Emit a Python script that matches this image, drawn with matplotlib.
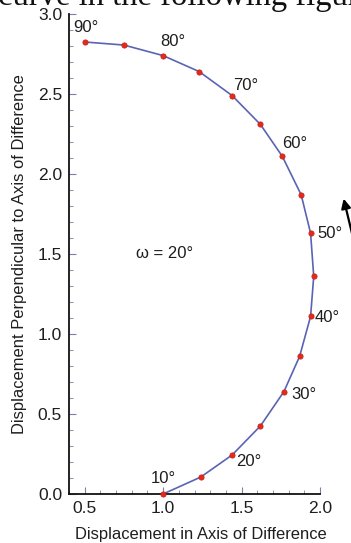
import matplotlib
matplotlib.use("Agg")
import matplotlib.pyplot as plt
from matplotlib.ticker import MultipleLocator

plt.rcParams['font.family'] = ['Liberation Sans', 'DejaVu Sans']

# angle of each point along the curve (deg)
angles = [10, 15, 20, 25, 30, 35, 40, 45, 50, 55, 60, 65, 70, 75, 80, 85, 90]
# displacement in axis of difference
x_disp = [1.00, 1.24, 1.44, 1.62, 1.77, 1.87, 1.94, 1.96, 1.94, 1.88, 1.76,
          1.62, 1.44, 1.23, 1.00, 0.75, 0.50]
# displacement perpendicular to axis of difference
y_disp = [0.00, 0.106, 0.244, 0.425, 0.64, 0.86, 1.11, 1.36, 1.63, 1.87, 2.11,
          2.31, 2.49, 2.64, 2.74, 2.806, 2.825]

# which points get a label, and where the text sits relative to the point (pt)
label_angles = [10, 20, 30, 40, 50, 60, 70, 80, 90]
label_offsets = {10: (0, 6), 20: (3, -5), 30: (5, -2), 40: (3, -1), 50: (5, 0),
                 60: (0, 4), 70: (1, 2), 80: (-2, 5), 90: (-8, 5)}
label_align = {10: ('center', 'bottom'), 20: ('left', 'center'), 30: ('left', 'center'),
               40: ('left', 'center'), 50: ('left', 'center'), 60: ('left', 'bottom'),
               70: ('left', 'bottom'), 80: ('left', 'bottom'), 90: ('left', 'bottom')}

fig = plt.figure(figsize=(3.51, 5.43), dpi=100)
ax = fig.add_axes([69 / 351, 1 - 494 / 543, 251 / 351, 480 / 543])

ax.plot(x_disp, y_disp, color='#5a63b4', lw=1.2, zorder=2)
ax.plot(x_disp, y_disp, 'o', color='#e42a1c', ms=3.8, mec='#c81e12', mew=0.5,
        zorder=3, clip_on=False)

for a in label_angles:
    i = angles.index(a)
    dx, dy = label_offsets[a]
    ha, va = label_align[a]
    ax.annotate(f'{a}°', (x_disp[i], y_disp[i]), xytext=(dx, dy),
                textcoords='offset points', ha=ha, va=va, fontsize=12,
                color='#1e1e1e')

ax.text(1.01, 1.5, 'ω = 20°', ha='center', va='center', fontsize=12,
        color='#1e1e1e')

# arrow running off the right edge
ax.annotate('', xy=(343 / 351, 1 - 196 / 543), xycoords='figure fraction',
            xytext=(356 / 351, 1 - 250 / 543), textcoords='figure fraction',
            arrowprops=dict(arrowstyle='-|>', color='black', lw=1.6,
                            mutation_scale=14))

# clipped caption text along the top
fig.text(-0.005, 1 - 5 / 543, 'curve in the following figure', fontsize=23.5,
         family='Liberation Serif', ha='left', va='baseline', color='#111111')

ax.set_xlim(0.4, 2.0)
ax.set_ylim(0.0, 3.0)
ax.xaxis.set_major_locator(MultipleLocator(0.5))
ax.xaxis.set_minor_locator(MultipleLocator(0.1))
ax.yaxis.set_major_locator(MultipleLocator(0.5))
ax.yaxis.set_minor_locator(MultipleLocator(0.1))
ax.xaxis.set_major_formatter(plt.FormatStrFormatter('%.1f'))
ax.yaxis.set_major_formatter(plt.FormatStrFormatter('%.1f'))

for s in ['top', 'right']:
    ax.spines[s].set_visible(False)
for s in ['left', 'bottom']:
    ax.spines[s].set_linewidth(1.3)
    ax.spines[s].set_color('#111111')

ax.tick_params(which='major', direction='in', length=5, width=0.8,
               color='#7a80a8', labelsize=12.5, labelcolor='#1e1e1e', pad=5)
ax.tick_params(which='minor', direction='in', length=3, width=0.6,
               color='#7a80a8')

ax.set_xlabel('Displacement in Axis of Difference', fontsize=11.9,
              color='#1e1e1e', labelpad=5)
ax.xaxis.set_label_coords(0.525, -0.068)
ax.set_ylabel('Displacement Perpendicular to Axis of Difference', fontsize=11.9,
              color='#1e1e1e', labelpad=8)

fig.savefig('out.png', dpi=100)
